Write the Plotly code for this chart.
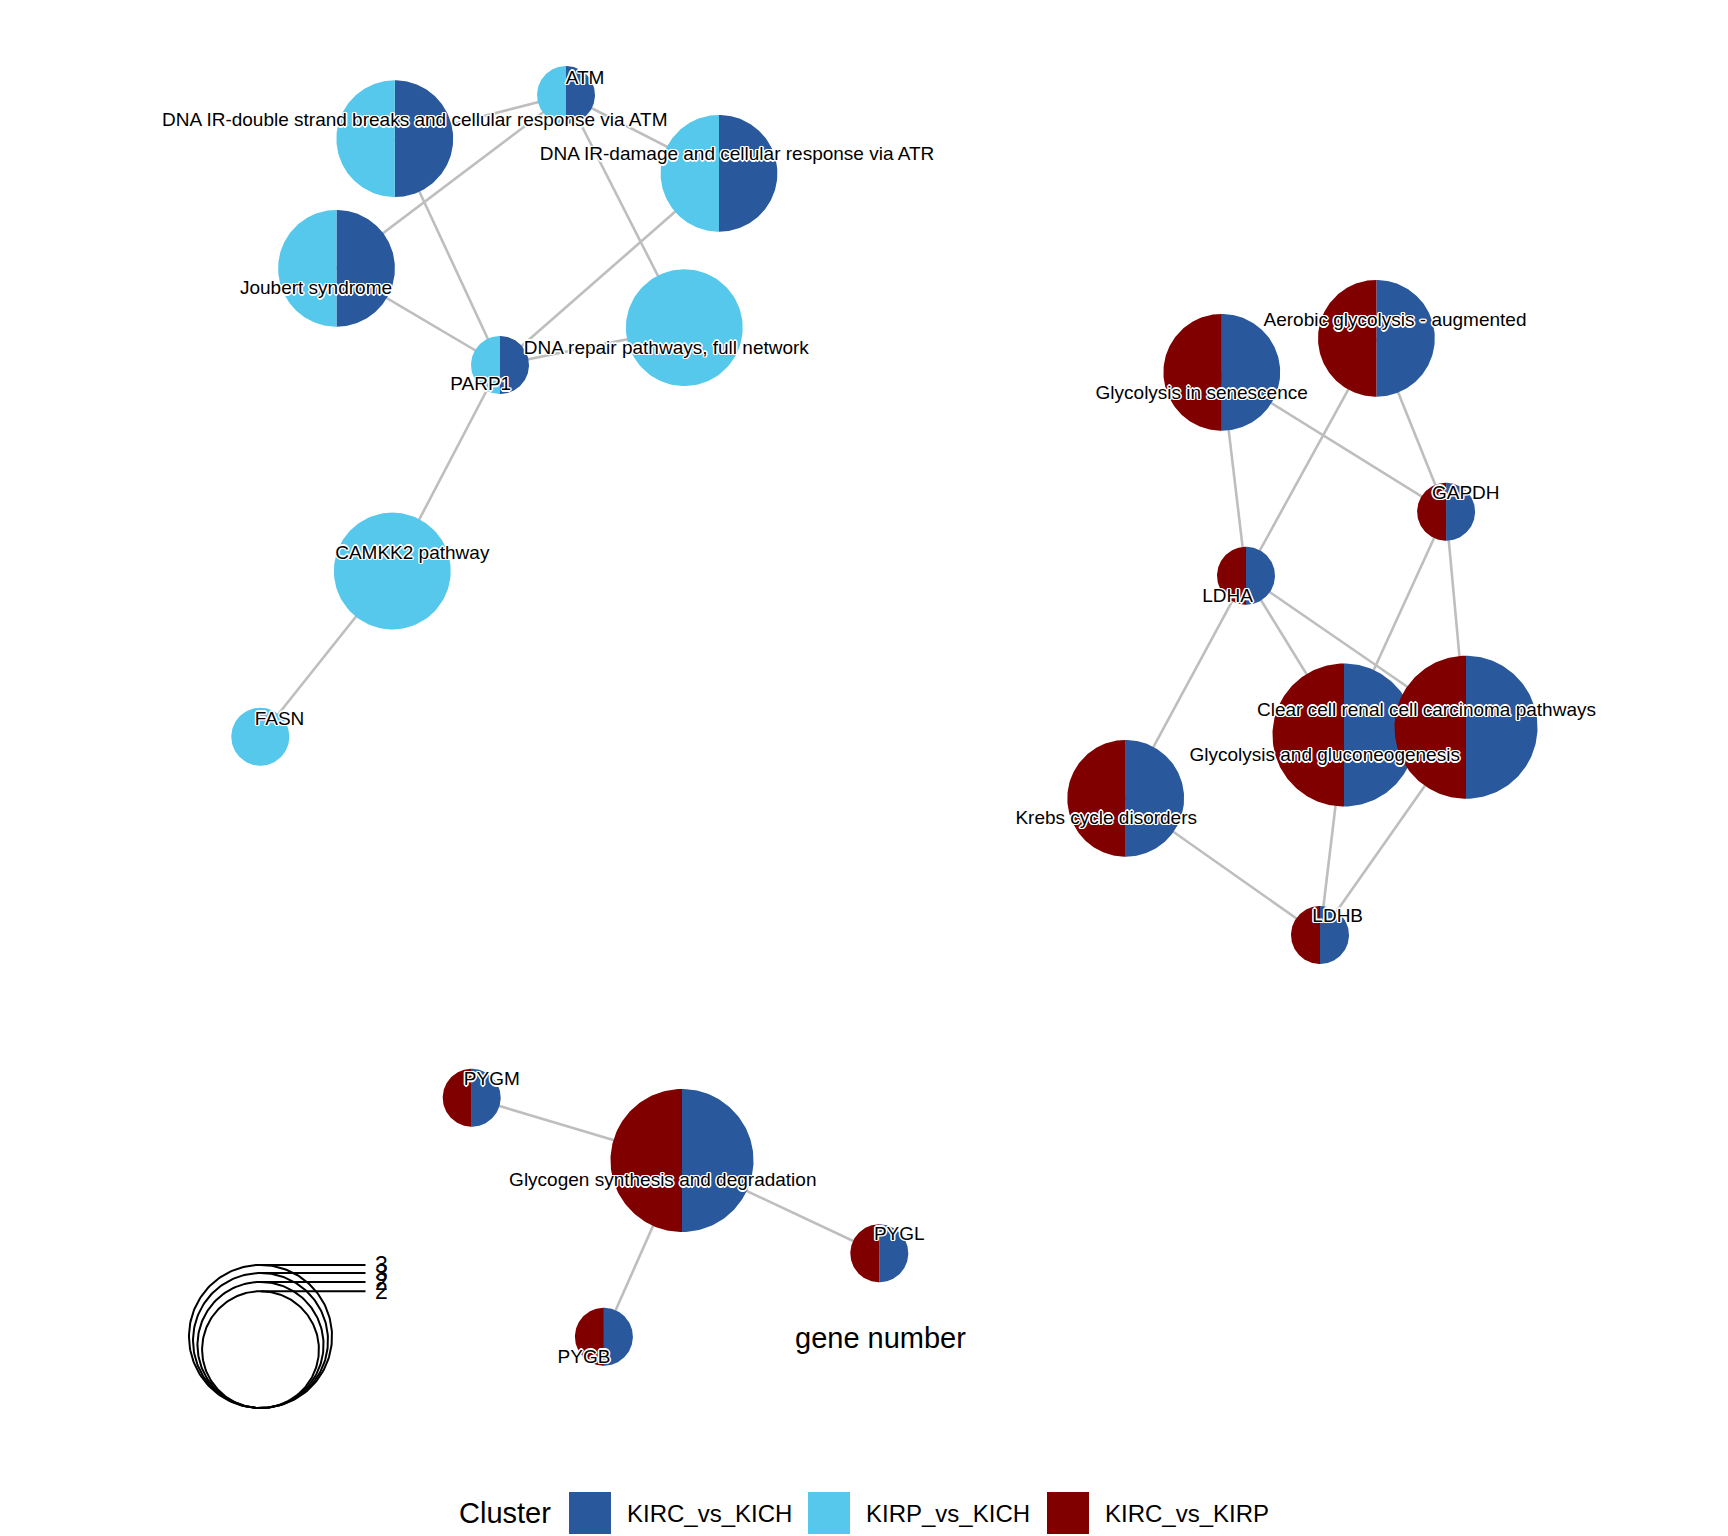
import numpy as np
import plotly.graph_objects as go

# cluster comparison names and colours
clusters = ["KIRC_vs_KICH", "KIRP_vs_KICH", "KIRC_vs_KIRP"]
cluster_colors = ["#29589C", "#56C8EC", "#800000"]

# pathways -> genes they contain (gene number = len)
pathways = [
    "DNA IR-double strand breaks and cellular response via ATM",
    "DNA IR-damage and cellular response via ATR",
    "Joubert syndrome",
    "DNA repair pathways, full network",
    "CAMKK2 pathway",
    "Aerobic glycolysis - augmented",
    "Glycolysis in senescence",
    "Clear cell renal cell carcinoma pathways",
    "Glycolysis and gluconeogenesis",
    "Krebs cycle disorders",
    "Glycogen synthesis and degradation",
]
pathway_genes = [
    ["ATM", "PARP1"],
    ["ATM", "PARP1"],
    ["ATM", "PARP1"],
    ["ATM", "PARP1"],
    ["PARP1", "FASN"],
    ["GAPDH", "LDHA"],
    ["GAPDH", "LDHA"],
    ["GAPDH", "LDHA", "LDHB"],
    ["GAPDH", "LDHA", "LDHB"],
    ["LDHA", "LDHB"],
    ["PYGM", "PYGL", "PYGB"],
]
genes = ["ATM", "PARP1", "FASN", "GAPDH", "LDHA", "LDHB", "PYGM", "PYGL", "PYGB"]

# node membership per cluster (pathways then genes)
kirc_kich = [1, 1, 1, 0, 0, 1, 1, 1, 1, 1, 1,   1, 1, 0, 1, 1, 1, 1, 1, 1]
kirp_kich = [1, 1, 1, 1, 1, 0, 0, 0, 0, 0, 0,   1, 1, 1, 0, 0, 0, 0, 0, 0]
kirc_kirp = [0, 0, 0, 0, 0, 1, 1, 1, 1, 1, 1,   0, 0, 0, 1, 1, 1, 1, 1, 1]

# graph layout coordinates (pathways then genes)
layout_x = [394.8, 719.0, 336.5, 684.3, 392.3, 1376.4, 1221.8, 1466.0, 1344.0, 1125.7, 682.0,
            566.0, 500.0, 260.3, 1446.1, 1246.0, 1320.0, 471.7, 879.3, 603.9]
layout_y = [138.7, 173.3, 268.3, 327.7, 571.0, 338.3, 372.3, 727.3, 735.0, 798.3, 1160.5,
            95.0, 365.0, 736.7, 511.7, 575.7, 935.0, 1097.7, 1253.3, 1336.7]

# repelled label positions
label_x = [414.8, 737.0, 316.0, 666.3, 412.3, 1395.0, 1201.7, 1426.5, 1324.7, 1106.2, 662.8,
           585.0, 480.7, 279.5, 1465.8, 1227.6, 1337.7, 491.8, 899.3, 584.0]
label_y = [120.0, 154.0, 288.0, 347.3, 552.3, 320.0, 392.3, 709.3, 755.0, 817.7, 1180.0,
           77.3, 384.0, 718.3, 492.3, 596.0, 915.7, 1079.0, 1233.3, 1356.7]

legend_sizes = [3, 2.67, 2.33, 2]

names = pathways + genes
gene_number = [len(g) for g in pathway_genes]
pos = {n: (layout_x[i], layout_y[i]) for i, n in enumerate(names)}

W, H = 1728, 1536
PAGE_PAD = 8    # browser body margin
R_UNIT = 41.3   # radius per sqrt(gene number)
R_GENE = 29
LABEL_DROP = 1.5
FONT = "Liberation Sans, Arial, sans-serif"

fig = go.Figure()

# edges
ex, ey = [], []
for p, gl in zip(pathways, pathway_genes):
    for g in gl:
        ex += [pos[p][0], pos[g][0], None]
        ey += [pos[p][1], pos[g][1], None]
fig.add_trace(go.Scatter(x=ex, y=ey, mode="lines", line=dict(color="#BEBEBE", width=2.6),
                         hoverinfo="skip", showlegend=False))

# pies
radii = [R_UNIT * np.sqrt(n) for n in gene_number] + [R_GENE] * len(genes)
members = list(zip(kirc_kich, kirp_kich, kirc_kirp))
wx = [[] for _ in clusters]
wy = [[] for _ in clusters]
for i, n in enumerate(names):
    cx, cy, r = layout_x[i], layout_y[i], radii[i]
    vals = members[i]
    tot = sum(vals)
    a0 = 0.0
    for c, v in enumerate(vals):
        if v == 0:
            continue
        span = 2 * np.pi * v / tot
        t = np.linspace(a0, a0 + span, 120)
        px = list(cx + r * np.sin(t))
        py = list(cy - r * np.cos(t))
        if span < 2 * np.pi - 1e-9:
            px = [cx] + px + [cx]
            py = [cy] + py + [cy]
        wx[c] += px + [None]
        wy[c] += py + [None]
        a0 += span
for c in range(len(clusters)):
    fig.add_trace(go.Scatter(x=wx[c], y=wy[c], mode="lines", fill="toself",
                             fillcolor=cluster_colors[c], line=dict(width=0, color=cluster_colors[c]),
                             hoverinfo="skip", showlegend=False))

# labels
halo = ("white 1.5px 0px 0px, white -1.5px 0px 0px, white 0px 1.5px 0px, white 0px -1.5px 0px, "
        "white 1px 1px 0px, white -1px -1px 0px, white 1px -1px 0px, white -1px 1px 0px")
fig.add_trace(go.Scatter(x=label_x, y=[v + LABEL_DROP for v in label_y], mode="text", text=names,
                         textposition="middle center",
                         textfont=dict(family=FONT, size=19, color="black", shadow=halo),
                         hoverinfo="skip", showlegend=False))

# size legend (gene number)
leg_cx, leg_bottom = 260.5, 1408
lx, ly = [], []
t = np.linspace(0, 2 * np.pi, 200)
for s in legend_sizes:
    r = R_UNIT * np.sqrt(s)
    cy = leg_bottom - r
    lx += list(leg_cx + r * np.sin(t)) + [None, leg_cx, leg_cx + 105, None]
    ly += list(cy - r * np.cos(t)) + [None, cy - r, cy - r, None]
fig.add_trace(go.Scatter(x=lx, y=ly, mode="lines", line=dict(color="black", width=2),
                         hoverinfo="skip", showlegend=False))
for s in legend_sizes:
    r = R_UNIT * np.sqrt(s)
    fig.add_annotation(x=leg_cx + 112, y=leg_bottom - 2 * r, text=str(int(round(s))),
                       showarrow=False, xanchor="left", yanchor="middle",
                       font=dict(family=FONT, size=23, color="black"))
fig.add_annotation(x=880.8, y=1338, text="gene number", showarrow=False,
                   xanchor="center", yanchor="middle", font=dict(family=FONT, size=29, color="black"))

# colour legend
fig.add_annotation(x=456.5, y=1513, text="Cluster", showarrow=False, xanchor="left",
                   yanchor="middle", font=dict(family=FONT, size=29, color="black"))
key_x = [569, 808, 1047]
for k, (name, col) in enumerate(zip(clusters, cluster_colors)):
    fig.add_shape(type="rect", x0=key_x[k], x1=key_x[k] + 42, y0=1492, y1=1534,
                  fillcolor=col, line=dict(width=0), layer="above")
    fig.add_annotation(x=key_x[k] + 55.5, y=1513, text=name, showarrow=False, xanchor="left",
                       yanchor="middle", font=dict(family=FONT, size=24, color="black"))

fig.update_layout(
    width=W, height=H,
    margin=dict(l=0, r=0, t=0, b=0),
    plot_bgcolor="white", paper_bgcolor="white",
    xaxis=dict(range=[PAGE_PAD, W + PAGE_PAD], visible=False, fixedrange=True),
    yaxis=dict(range=[H + PAGE_PAD, PAGE_PAD], visible=False, fixedrange=True),
    showlegend=False,
)

fig.write_html("out.html")
